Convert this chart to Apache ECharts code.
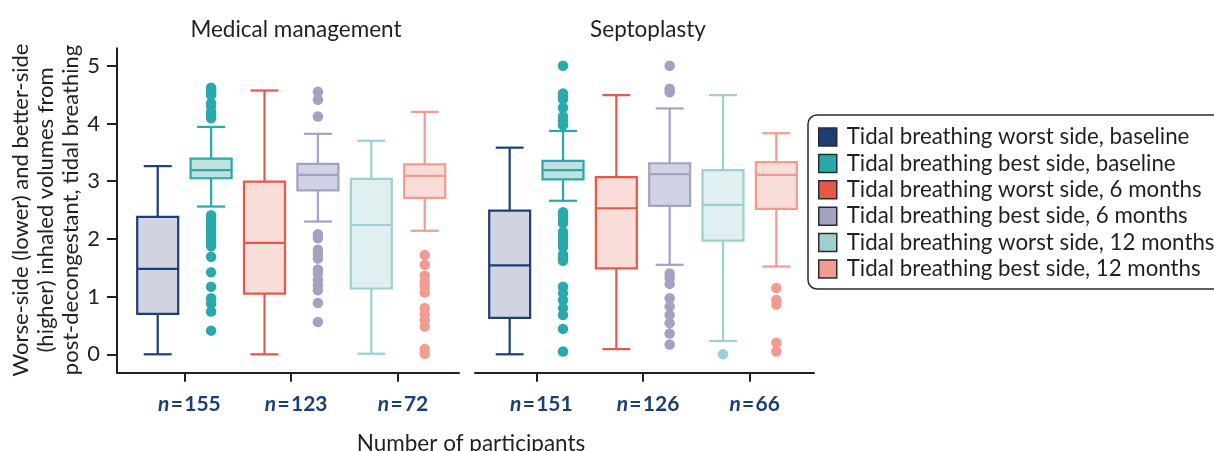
<!DOCTYPE html>
<html>
<head>
<meta charset="utf-8">
<title>Inhaled volumes, tidal breathing</title>
<script src="https://cdn.jsdelivr.net/npm/echarts@6/dist/echarts.min.js"></script>
<style>
  html, body { margin: 0; padding: 0; background: #ffffff; }
  #chart { width: 1214px; height: 451px; }
</style>
</head>
<body>
<div id="chart"></div>
<script>
// Panels and groups
const panelTitles = ['Medical management', 'Septoplasty'];
const seriesNames = [
  'Tidal breathing worst side, baseline',
  'Tidal breathing best side, baseline',
  'Tidal breathing worst side, 6 months',
  'Tidal breathing best side, 6 months',
  'Tidal breathing worst side, 12 months',
  'Tidal breathing best side, 12 months'
];
const lineColors = ['#1b3f74', '#2aa9ad', '#e8574c', '#a2a3c3', '#9dcfd3', '#f29b91'];
const fillColors = ['#d1d3e3', '#c1e1e1', '#f9ddd8', '#d1d2e3', '#e0eff0', '#f9ddd9'];

// Participants per visit (one label per pair of boxes)
const participantCounts = [
  ['155', '123', '72'],
  ['151', '126', '66']
];

// Box statistics: [min, Q1, median, Q3, max]
const medicalStats = [
  [0.00, 0.70, 1.48, 2.38, 3.26],
  [2.56, 3.05, 3.19, 3.39, 3.94],
  [0.00, 1.05, 1.93, 2.99, 4.57],
  [2.30, 2.84, 3.11, 3.30, 3.82],
  [0.01, 1.14, 2.24, 3.04, 3.70],
  [2.14, 2.71, 3.09, 3.29, 4.20]
];
const septoplastyStats = [
  [0.00, 0.63, 1.54, 2.49, 3.58],
  [2.66, 3.03, 3.19, 3.35, 3.87],
  [0.09, 1.49, 2.53, 3.07, 4.49],
  [1.55, 2.57, 3.12, 3.31, 4.26],
  [0.23, 1.97, 2.59, 3.19, 4.49],
  [1.52, 2.52, 3.11, 3.33, 3.83]
];

// Outlying observations
const medicalOutliers = [
  [],
  [4.62, 4.59, 4.56, 4.53, 4.49, 4.35, 4.30, 4.20, 4.14, 4.09,
   2.41, 2.36, 2.31, 2.26, 2.21, 2.16, 2.10, 2.05, 1.99, 1.93, 1.87,
   1.69, 1.42, 1.17, 0.97, 0.88, 0.74, 0.41],
  [],
  [4.55, 4.41, 4.12, 2.08, 2.01, 1.81, 1.74, 1.66, 1.47, 1.40, 1.29, 1.20, 1.11, 0.89, 0.56],
  [],
  [1.72, 1.55, 1.36, 1.26, 1.17, 1.07, 0.80, 0.70, 0.59, 0.48, 0.09, 0.01]
];
const septoplastyOutliers = [
  [],
  [5.00, 4.52, 4.47, 4.42, 4.27, 4.12, 4.05, 3.97,
   2.46, 2.40, 2.33, 2.27, 2.12, 2.05, 1.98, 1.92, 1.86, 1.73, 1.67, 1.62,
   1.17, 1.06, 0.94, 0.80, 0.68, 0.44, 0.05],
  [],
  [5.00, 4.60, 4.54, 1.40, 1.32, 1.22, 0.97, 0.83, 0.68, 0.54, 0.36, 0.17],
  [0.00],
  [1.15, 0.94, 0.86, 0.20, 0.05]
];

const valueMin = 0;
const valueMax = 5;
const valueStep = 1;

const FONT = 'Lato';
const INK = '#231f20';
const NAVY = '#1b3f74';

// Draws one box with whiskers and short caps on the category band
function boxRenderer(g) {
  return function (params, api) {
    const cat = api.value(0);
    const band = api.size([1, 0])[0];
    const cx = api.coord([cat, 0])[0];
    const py = i => api.coord([cat, api.value(i)])[1];
    const yMin = py(1), yQ1 = py(2), yMed = py(3), yQ3 = py(4), yMax = py(5);
    const hw = band * 0.384;
    const cw = band * 0.262;
    const st = () => ({ stroke: lineColors[g], lineWidth: 2.2, fill: null });
    return {
      type: 'group',
      children: [
        { type: 'line', shape: { x1: cx, y1: yMax, x2: cx, y2: yQ3 }, style: st() },
        { type: 'line', shape: { x1: cx, y1: yQ1, x2: cx, y2: yMin }, style: st() },
        { type: 'line', shape: { x1: cx - cw, y1: yMax, x2: cx + cw, y2: yMax }, style: st() },
        { type: 'line', shape: { x1: cx - cw, y1: yMin, x2: cx + cw, y2: yMin }, style: st() },
        { type: 'rect', shape: { x: cx - hw, y: yQ3, width: 2 * hw, height: yQ1 - yQ3 },
          style: { fill: fillColors[g], stroke: lineColors[g], lineWidth: 2.2 } },
        { type: 'line', shape: { x1: cx - hw, y1: yMed, x2: cx + hw, y2: yMed }, style: st() }
      ]
    };
  };
}

const groupIdx = seriesNames.map((_, i) => i);

// Frame grids carry the long axis lines; data grids hold the boxes
const grids = [
  { left: 117, top: 48.3, width: 342, height: 324.4 },
  { left: 475, top: 48.3, width: 339, height: 324.4 },
  { left: 131, top: 65.7, width: 320.4, height: 288.6 },
  { left: 483, top: 65.7, width: 320, height: 288.6 }
].map(g => Object.assign({ outerBoundsMode: 'none', containLabel: false }, g));

const frameX = gi => ({
  gridIndex: gi, type: 'value', min: 0, max: 1,
  axisLine: { show: true, onZero: false, lineStyle: { color: INK, width: 2 } },
  axisTick: { show: false }, axisLabel: { show: false }, splitLine: { show: false }
});
const dataX = gi => ({
  gridIndex: gi, type: 'category', position: 'bottom', show: false,
  data: groupIdx.map(String), boundaryGap: true
});
const pairX = (gi, p) => ({
  gridIndex: gi, type: 'category', position: 'bottom', offset: 18.4,
  data: participantCounts[p], boundaryGap: true,
  axisLine: { show: false, onZero: false },
  axisTick: { show: true, alignWithLabel: true, length: 9, lineStyle: { color: INK, width: 2 } },
  axisLabel: {
    margin: 21,
    padding: [0, 0, 0, 10],
    formatter: v => '{i|n}{b|\u200a=\u200a' + v + '}',
    rich: {
      i: { fontFamily: FONT, fontSize: 21, fontWeight: 'bold', fontStyle: 'italic', color: NAVY },
      b: { fontFamily: FONT, fontSize: 21, fontWeight: 'bold', color: NAVY }
    }
  },
  splitLine: { show: false }
});

const option = {
  backgroundColor: '#ffffff',
  animation: false,
  title: [
    { text: panelTitles[0], left: 291, top: 13, textAlign: 'center',
      textStyle: { fontFamily: FONT, fontSize: 22.5, fontWeight: 'normal', color: INK } },
    { text: panelTitles[1], left: 643, top: 13, textAlign: 'center',
      textStyle: { fontFamily: FONT, fontSize: 22.5, fontWeight: 'normal', color: INK } },
    { text: 'Number of participants', left: 466, top: 427, textAlign: 'center',
      textStyle: { fontFamily: FONT, fontSize: 22.5, fontWeight: 'normal', color: INK } }
  ],
  legend: {
    orient: 'vertical',
    left: 808, top: 115,
    padding: [11, 60, 9, 10],
    backgroundColor: '#ffffff',
    borderColor: '#2b2b2b', borderWidth: 1.5, borderRadius: 9,
    itemWidth: 18, itemHeight: 18, itemGap: 4.4,
    icon: 'rect',
    selectedMode: false,
    textStyle: { fontFamily: FONT, fontSize: 22.3, color: INK, padding: [0, 0, 0, 5] },
    data: seriesNames.map((name, g) => ({
      name, icon: 'rect',
      itemStyle: { color: lineColors[g], borderColor: '#2b2b2b', borderWidth: 1.5 }
    }))
  },
  grid: grids,
  xAxis: [frameX(0), frameX(1), dataX(2), dataX(3), pairX(2, 0), pairX(3, 1)],
  yAxis: [
    { gridIndex: 0, type: 'value', min: -0.32, max: 5.3,
      axisLine: { show: true, onZero: false, lineStyle: { color: INK, width: 2 } },
      axisTick: { show: false }, axisLabel: { show: false }, splitLine: { show: false } },
    { gridIndex: 1, type: 'value', min: -0.32, max: 5.3, show: false },
    { gridIndex: 2, type: 'value', min: valueMin, max: valueMax, interval: valueStep,
      offset: 14,
      axisLine: { show: false, onZero: false },
      axisTick: { show: true, length: 10, lineStyle: { color: INK, width: 2 } },
      axisLabel: { fontFamily: FONT, fontSize: 22, color: INK, margin: 17 },
      splitLine: { show: false },
      name: 'Worse-side (lower) and better-side\n(higher) inhaled volumes from\npost-decongestant, tidal breathing',
      nameLocation: 'middle', nameRotate: 90, nameGap: 34,
      nameTextStyle: { fontFamily: FONT, fontSize: 22, lineHeight: 25, color: INK, align: 'center' } },
    { gridIndex: 3, type: 'value', min: valueMin, max: valueMax, show: false }
  ],
  series: []
};

const panels = [
  { stats: medicalStats, outliers: medicalOutliers, axis: 2 },
  { stats: septoplastyStats, outliers: septoplastyOutliers, axis: 3 }
];

panels.forEach(p => {
  groupIdx.forEach(g => {
    option.series.push({
      type: 'custom',
      name: seriesNames[g],
      xAxisIndex: p.axis, yAxisIndex: p.axis,
      renderItem: boxRenderer(g),
      encode: { x: 0, y: [1, 2, 3, 4, 5] },
      itemStyle: { color: lineColors[g] },
      clip: false,
      silent: true,
      data: [[g].concat(p.stats[g])]
    });
    option.series.push({
      type: 'scatter',
      name: seriesNames[g],
      xAxisIndex: p.axis, yAxisIndex: p.axis,
      symbol: 'circle', symbolSize: 10.5,
      itemStyle: { color: lineColors[g], opacity: 1 },
      clip: false,
      silent: true,
      data: p.outliers[g].map(v => [g, v])
    });
  });
});

const chart = echarts.init(document.getElementById('chart'), null, { renderer: 'canvas' });
chart.setOption(option);
</script>
</body>
</html>
